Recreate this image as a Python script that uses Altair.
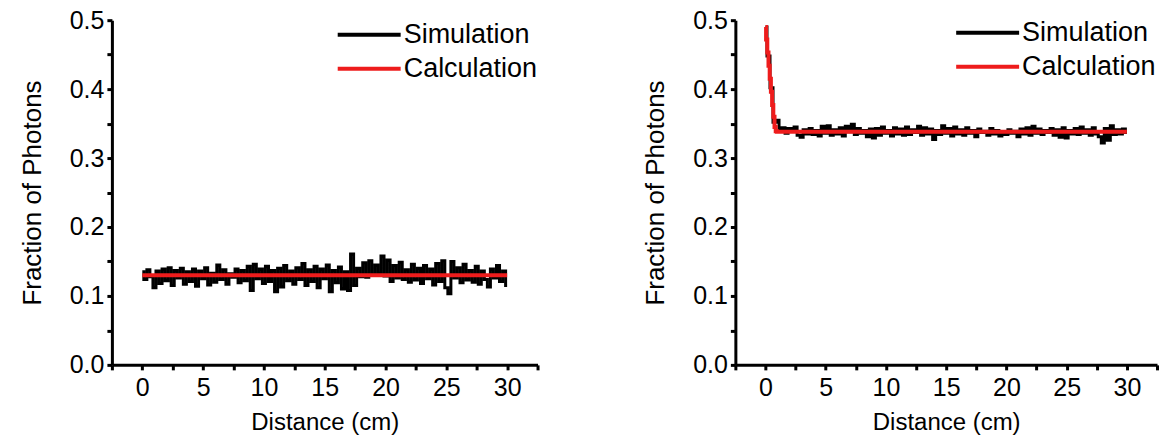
import altair as alt
import pandas as pd

# ---------------- data ----------------
STEP = 0.25
left_sim = [
    0.135, 0.124, 0.138, 0.128, 0.112, 0.136, 0.118, 0.139, 0.122, 0.141,
    0.115, 0.137, 0.126, 0.140, 0.117, 0.135, 0.121, 0.139, 0.114, 0.136,
    0.125, 0.141, 0.116, 0.133, 0.120, 0.145, 0.124, 0.138, 0.117, 0.132,
    0.127, 0.139, 0.119, 0.137, 0.122, 0.143, 0.108, 0.146, 0.125, 0.139,
    0.118, 0.143, 0.121, 0.137, 0.106, 0.140, 0.113, 0.144, 0.122, 0.136,
    0.117, 0.141, 0.124, 0.147, 0.115, 0.138, 0.121, 0.143, 0.112, 0.139,
    0.125, 0.145, 0.106, 0.137, 0.119, 0.142, 0.110, 0.135, 0.108, 0.161,
    0.115, 0.140, 0.128, 0.148, 0.127, 0.151, 0.130, 0.145, 0.133, 0.158,
    0.129, 0.152, 0.121, 0.144, 0.126, 0.149, 0.124, 0.138, 0.120, 0.146,
    0.123, 0.140, 0.118, 0.144, 0.125, 0.139, 0.116, 0.147, 0.121, 0.151,
    0.112, 0.103, 0.150, 0.126, 0.141, 0.119, 0.146, 0.123, 0.137, 0.120,
    0.143, 0.117, 0.136, 0.124, 0.113, 0.139, 0.126, 0.144, 0.121, 0.136,
    0.115,
]
right_sim = [
    0.490, 0.448, 0.402, 0.352, 0.355, 0.340,
    0.344, 0.336, 0.343, 0.339, 0.345, 0.333, 0.330, 0.341, 0.335, 0.343,
    0.334, 0.340, 0.332, 0.346, 0.336, 0.347, 0.333, 0.341, 0.335, 0.344,
    0.332, 0.346, 0.338, 0.349, 0.334, 0.343, 0.336, 0.340, 0.331, 0.342,
    0.329, 0.343, 0.333, 0.345, 0.336, 0.340, 0.332, 0.344, 0.335, 0.342,
    0.333, 0.345, 0.334, 0.341, 0.337, 0.346, 0.333, 0.344, 0.335, 0.342,
    0.327, 0.340, 0.334, 0.347, 0.336, 0.343, 0.332, 0.345, 0.335, 0.341,
    0.333, 0.344, 0.336, 0.340, 0.331, 0.342, 0.337, 0.339, 0.333, 0.343,
    0.335, 0.340, 0.332, 0.338, 0.334, 0.341, 0.336, 0.339, 0.331, 0.342,
    0.335, 0.344, 0.333, 0.346, 0.336, 0.342, 0.334, 0.340, 0.337, 0.343,
    0.333, 0.341, 0.330, 0.344, 0.329, 0.340, 0.335, 0.343, 0.334, 0.345,
    0.336, 0.341, 0.333, 0.344, 0.335, 0.331, 0.322, 0.343, 0.326, 0.347,
    0.334, 0.341, 0.335, 0.342, 0.337,
]
left_calc_x = [0.0, 30.0]
left_calc_y = [0.130, 0.130]
right_calc_x = [0.0, 0.1, 0.2, 0.3, 0.4, 0.5, 0.6, 0.7, 0.8, 0.9, 1.0, 30.0]
right_calc_y = [0.490, 0.472, 0.453, 0.434, 0.415, 0.396, 0.377, 0.360, 0.345, 0.339, 0.338, 0.338]

series_names = ["Simulation", "Calculation"]
series_colors = ["#000000", "#ee1c1c"]
series_widths = [3, 4]

x_ticks = [-2.5 + 2.5 * i for i in range(15)]
y_ticks = [round(0.05 * i, 2) for i in range(11)]

FONT = "Liberation Sans"


def panel(sim, cx, cy, lx, ly, w):
    s = pd.DataFrame({"x": [i * STEP for i in range(len(sim))], "y": sim, "series": "Simulation"})
    c = pd.DataFrame({"x": cx, "y": cy, "series": "Calculation"})
    df = pd.concat([s, c], ignore_index=True)
    xaxis = alt.Axis(
        title="Distance (cm)",
        values=x_ticks,
        labelExpr="datum.value % 5 == 0 ? datum.label : ''",
        labelOverlap=False,
        domainColor="black",
        domainWidth=3,
        tickColor="black",
        tickWidth=3,
        labelFont=FONT,
        labelFontSize=25,
        labelColor="black",
        labelPadding=6,
        titleFont=FONT,
        titleFontSize=24,
        titleFontWeight="normal",
        titleColor="black",
        titlePadding=10,
        grid=False,
    )
    yaxis = alt.Axis(
        title="Fraction of Photons",
        values=y_ticks,
        labelExpr="round(datum.value * 100) % 10 == 0 ? format(datum.value, '.1f') : ''",
        labelOverlap=False,
        domainColor="black",
        domainWidth=3,
        tickColor="black",
        tickWidth=3,
        labelFont=FONT,
        labelFontSize=25,
        labelColor="black",
        labelPadding=3,
        titleFont=FONT,
        titleFontSize=26,
        titleFontWeight="normal",
        titleColor="black",
        titlePadding=24,
        grid=False,
    )
    color = alt.Color(
        "series:N",
        scale=alt.Scale(domain=series_names, range=series_colors),
        legend=alt.Legend(
            title=None,
            orient="none",
            legendX=lx,
            legendY=ly,
            symbolType="M-5,0H1",
            symbolSize=441,
            symbolStrokeWidth=4,
            labelFontSize=27,
            labelFont=FONT,
            labelColor="black",
            labelOffset=0,
            rowPadding=6,
            padding=0,
        ),
    )
    return (
        alt.Chart(df)
        .mark_line(interpolate="step")
        .encode(
            x=alt.X("x:Q", scale=alt.Scale(domain=[-2.5, 32.5], nice=False, zero=False), axis=xaxis),
            y=alt.Y("y:Q", scale=alt.Scale(domain=[0, 0.5], nice=False), axis=yaxis),
            color=color,
            strokeWidth=alt.StrokeWidth(
                "series:N",
                scale=alt.Scale(domain=series_names, range=series_widths),
                legend=None,
            ),
        )
        .properties(width=w, height=345)
    )


left = panel(left_sim, left_calc_x, left_calc_y, 265, 1, 426)
right = panel(right_sim, right_calc_x, right_calc_y, 260, -1, 422)

chart = (
    alt.hconcat(left, right, spacing=103)
    .resolve_scale(color="independent")
    .resolve_legend(color="independent")
    .properties(padding={"left": 19, "top": 8, "right": 0, "bottom": 0})
    .configure_view(strokeWidth=0)
)

chart.save("out.html", embed_options={"renderer": "svg", "actions": False})
